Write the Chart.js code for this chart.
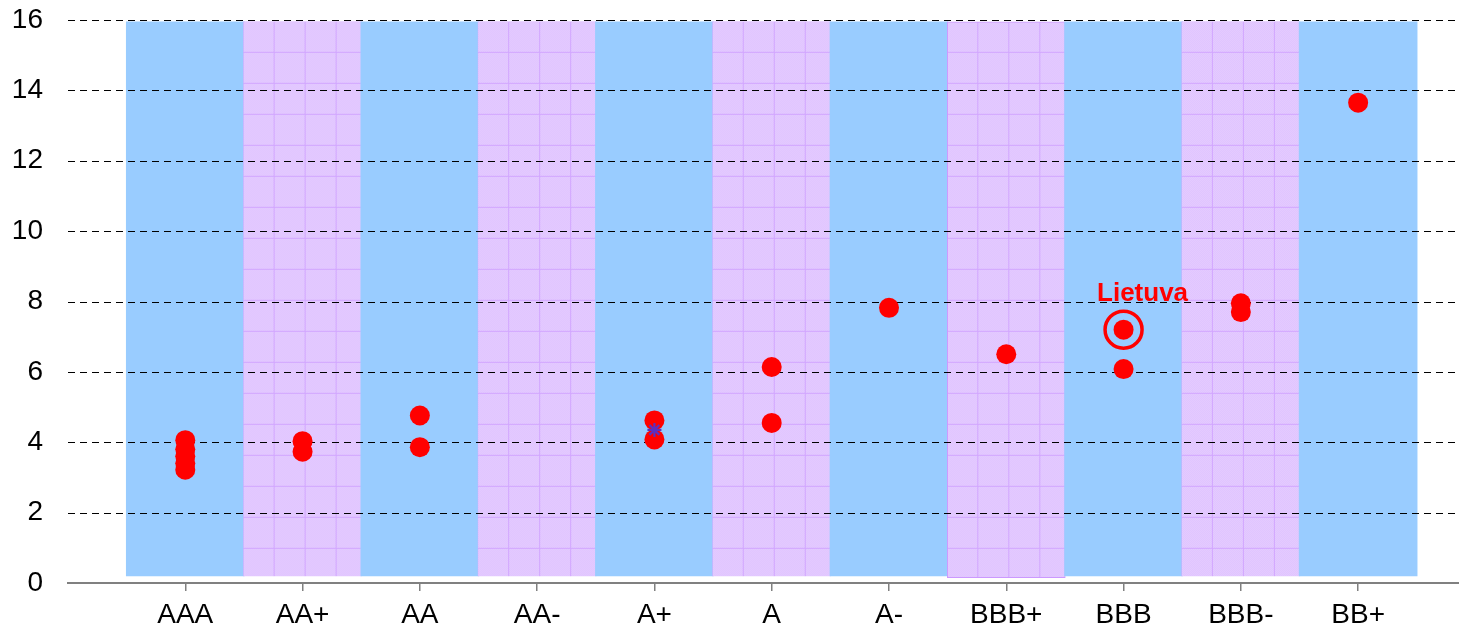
<!DOCTYPE html>
<html>
<head>
<meta charset="utf-8">
<script src="https://cdn.jsdelivr.net/npm/chart.js@4.4.1/dist/chart.umd.min.js"></script>
<style>
  html, body { margin: 0; padding: 0; background: #ffffff; overflow: hidden; }
  #wrap { width: 1459px; height: 629px; position: relative; }
</style>
</head>
<body>
<div id="wrap"><canvas id="c"></canvas></div>
<script>
// ---- data ----
const categories = ['AAA', 'AA+', 'AA', 'AA-', 'A+', 'A', 'A-', 'BBB+', 'BBB', 'BBB-', 'BB+'];
const yTicks = [0, 2, 4, 6, 8, 10, 12, 14, 16];

// background bands (one per rating)
const bandBottom = [0.2, 0.2, 0.2, 0.2, 0.2, 0.2, 0.2, 0.15, 0.2, 0.2, 0.2];
const bandTop    = [15.95, 15.95, 15.95, 15.95, 15.95, 15.95, 15.95, 15.95, 15.95, 15.95, 15.95];

// country values (red dots)
const pointRating = ['AAA', 'AAA', 'AAA', 'AAA', 'AAA', 'AA+', 'AA+', 'AA', 'AA', 'A+', 'A+', 'A', 'A', 'A-', 'BBB+', 'BBB', 'BBB', 'BBB-', 'BBB-', 'BB+'];
const pointValue  = [4.06, 3.8, 3.6, 3.4, 3.22, 4.03, 3.73, 4.76, 3.86, 4.62, 4.08, 6.14, 4.55, 7.82, 6.5, 7.2, 6.08, 7.95, 7.7, 13.65];

// average marker (asterisk)
const avgRating = ['A+'];
const avgValue  = [4.35];

// highlighted country
const highlightName   = 'Lietuva';
const highlightRating = 'BBB';
const highlightValue  = 7.2;

// ---- helpers ----
const catPos = r => categories.indexOf(r) + 1;

function makeTile() {
  const t = document.createElement('canvas');
  t.width = 31; t.height = 31;
  const g = t.getContext('2d');
  g.fillStyle = '#E6CDFF';
  g.fillRect(0, 0, 31, 31);
  g.fillStyle = '#DFC3FF';
  for (let y = 0; y < 31; y++) {
    for (let x = (y % 2); x < 31; x += 2) g.fillRect(x, y, 1, 1);
  }
  g.fillStyle = '#D2A6FF';
  g.fillRect(30, 0, 1, 31);
  g.fillRect(0, 30, 31, 1);
  return t;
}
const tile = makeTile();
const patternCache = {};

const BAND_W = 118;

function bandColor(ctx) {
  const i = ctx.dataIndex;
  if (i === undefined) return '#99CCFF';
  if (i % 2 === 0) return '#99CCFF';
  const chart = ctx.chart;
  const xs = chart.scales.x, ys = chart.scales.y;
  if (!xs || !ys) return '#E6CDFF';
  const left = xs.getPixelForValue(i + 1) - BAND_W / 2;
  const top = ys.getPixelForValue(bandTop[i]);
  const key = i + ':' + Math.round(left) + ':' + Math.round(top);
  if (!patternCache[key]) {
    const p = chart.ctx.createPattern(tile, 'repeat');
    p.setTransform(new DOMMatrix([1, 0, 0, 1, left, top]));
    patternCache[key] = p;
  }
  return patternCache[key];
}

// dashed horizontal grid drawn just above the bands
const gridAboveBands = {
  id: 'gridAboveBands',
  afterDatasetDraw(chart, args) {
    if (args.index !== 0) return;
    const ys = chart.scales.y;
    const ctx = chart.ctx;
    ctx.save();
    ctx.strokeStyle = '#000000';
    ctx.lineWidth = 1;
    ctx.setLineDash([7, 5]);
    yTicks.forEach(v => {
      if (v === 0) return;
      const y = Math.round(ys.getPixelForValue(v)) + 0.5;
      ctx.beginPath();
      ctx.moveTo(chart.chartArea.left, y);
      ctx.lineTo(chart.width, y);
      ctx.stroke();
    });
    ctx.restore();
  }
};

const highlightLabel = {
  id: 'highlightLabel',
  afterDatasetsDraw(chart) {
    const xs = chart.scales.x, ys = chart.scales.y;
    const ctx = chart.ctx;
    const px = xs.getPixelForValue(catPos(highlightRating));
    const py = ys.getPixelForValue(highlightValue);
    ctx.save();
    ctx.fillStyle = '#FF0000';
    ctx.font = 'bold 26px "Liberation Sans", Arial, sans-serif';
    ctx.textAlign = 'center';
    ctx.textBaseline = 'alphabetic';
    ctx.fillText(highlightName, px + 19, py - 29);
    ctx.restore();
  }
};

Chart.defaults.font.family = '"Liberation Sans", Arial, sans-serif';
Chart.defaults.color = '#000000';

new Chart(document.getElementById('c'), {
  type: 'scatter',
  data: {
    datasets: [
      {
        type: 'bar',
        label: 'bands',
        data: categories.map((c, i) => ({ x: i + 1, y: [bandBottom[i], bandTop[i]] })),
        backgroundColor: bandColor,
        borderWidth: ctx => (categories[ctx.dataIndex] === 'BBB+' ? 1 : 0),
        borderColor: '#CC99FF',
        borderSkipped: false,
        barThickness: BAND_W,
        grouped: false,
        order: 4
      },
      {
        label: 'values',
        data: pointRating.map((r, i) => ({ x: catPos(r), y: pointValue[i] })),
        pointStyle: 'circle',
        pointRadius: 10,
        pointBorderWidth: 0,
        backgroundColor: '#FF0000',
        borderColor: '#FF0000',
        order: 2
      },
      {
        label: 'average',
        data: avgRating.map((r, i) => ({ x: catPos(r), y: avgValue[i] })),
        pointStyle: 'star',
        pointRadius: 7,
        pointBorderWidth: 2.2,
        borderColor: '#5B2FBF',
        backgroundColor: '#5B2FBF',
        order: 1
      },
      {
        label: 'highlight',
        data: [{ x: catPos(highlightRating), y: highlightValue }],
        pointStyle: 'circle',
        pointRadius: 18.5,
        pointBorderWidth: 3.5,
        borderColor: '#FF0000',
        backgroundColor: 'rgba(0,0,0,0)',
        order: 0
      }
    ]
  },
  options: {
    responsive: true,
    maintainAspectRatio: false,
    animation: false,
    events: [],
    layout: { autoPadding: false, padding: { top: 20, left: 0, right: 0, bottom: 0 } },
    plugins: {
      legend: { display: false },
      tooltip: { enabled: false }
    },
    scales: {
      x: {
        type: 'linear',
        offset: false,
        min: 0,
        max: 11.86,
        afterFit: s => { s.height = 46; },
        afterBuildTicks: s => { s.ticks = categories.map((c, i) => ({ value: i + 1 })); },
        ticks: {
          autoSkip: false,
          maxRotation: 0,
          padding: 7,
          font: { size: 28 },
          color: '#000000',
          callback: v => categories[Math.round(v) - 1] || ''
        },
        grid: {
          offset: false,
          drawOnChartArea: false,
          drawTicks: true,
          tickLength: 8,
          color: '#808080',
          lineWidth: 1.5
        },
        border: { display: true, color: '#808080', width: 2 }
      },
      y: {
        min: 0,
        max: 16,
        afterFit: s => { s.width = 68; },
        afterBuildTicks: s => { s.ticks = yTicks.map(v => ({ value: v })); },
        ticks: {
          padding: 0,
          font: { size: 28 },
          color: '#000000'
        },
        grid: { display: false, drawTicks: true, tickLength: 25 },
        border: { display: false }
      }
    }
  },
  plugins: [gridAboveBands, highlightLabel]
});
</script>
</body>
</html>
